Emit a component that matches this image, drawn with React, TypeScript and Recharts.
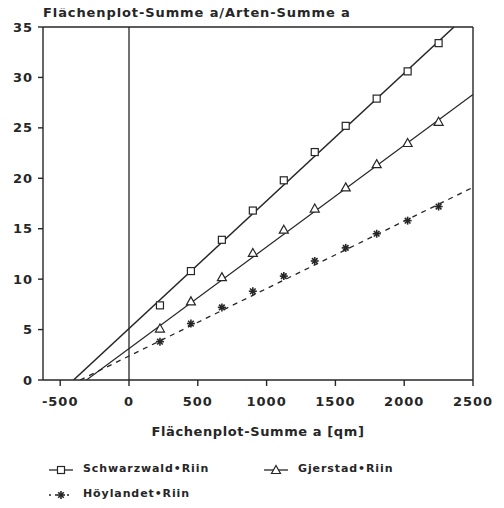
import React from 'react';
import { ComposedChart, XAxis, YAxis, Line, Scatter, ReferenceLine } from 'recharts';

// Flächenplot-Summe a (qm) at each step
const plotArea = [225, 450, 675, 900, 1125, 1350, 1575, 1800, 2025, 2250];
const schwarzwald = [7.4, 10.8, 13.9, 16.8, 19.8, 22.6, 25.2, 27.9, 30.6, 33.4];
const gjerstad = [5.1, 7.8, 10.2, 12.6, 14.9, 17.0, 19.1, 21.4, 23.5, 25.6];
const hoylandet = [3.8, 5.6, 7.2, 8.8, 10.3, 11.8, 13.1, 14.5, 15.8, 17.2];

// fitted lines, end points
const schwarzwaldFitX = [-403, 2362];
const schwarzwaldFitY = [0, 35];
const gjerstadFitX = [-309, 2500];
const gjerstadFitY = [0, 28.3];
const hoylandetFitX = [-355, 2500];
const hoylandetFitY = [0, 19.1];

const xTicks = [-500, 0, 500, 1000, 1500, 2000, 2500];
const yTicks = [0, 5, 10, 15, 20, 25, 30, 35];

const INK = '#262626';
const FONT = '"DejaVu Sans", sans-serif';

const toPoints = (xs: number[], ys: number[]) => xs.map((x, i) => ({ x, y: ys[i] }));

const SquareDot = (props: any) => {
  const { cx, cy } = props;
  return <rect x={cx - 3.5} y={cy - 3.5} width={7} height={7} fill="#fff" stroke={INK} strokeWidth={1.2} />;
};

const TriangleDot = (props: any) => {
  const { cx, cy } = props;
  return (
    <polygon
      points={`${cx},${cy - 4.5} ${cx + 4.5},${cy + 3.5} ${cx - 4.5},${cy + 3.5}`}
      fill="#fff"
      stroke={INK}
      strokeWidth={1.2}
    />
  );
};

const StarDot = (props: any) => {
  const { cx, cy } = props;
  const r = 4;
  const d = 2.8;
  return (
    <g stroke={INK} strokeWidth={1.6}>
      <line x1={cx - r} y1={cy} x2={cx + r} y2={cy} />
      <line x1={cx} y1={cy - r} x2={cx} y2={cy + r} />
      <line x1={cx - d} y1={cy - d} x2={cx + d} y2={cy + d} />
      <line x1={cx - d} y1={cy + d} x2={cx + d} y2={cy - d} />
    </g>
  );
};

const textStyle: React.CSSProperties = {
  fontFamily: FONT,
  fontWeight: 'bold',
  color: INK,
  position: 'absolute',
  whiteSpace: 'nowrap',
};

const LegendItem = ({ left, top, label, kind }: { left: number; top: number; label: string; kind: string }) => (
  <div style={{ position: 'absolute', left, top, height: 14 }}>
    <svg width={26} height={14} style={{ position: 'absolute', left: 0, top: 0 }}>
      <line
        x1={1}
        y1={7}
        x2={25}
        y2={7}
        stroke={INK}
        strokeWidth={1.3}
        strokeDasharray={kind === 'star' ? '2 4' : undefined}
      />
      {kind === 'square' && <SquareDot cx={13} cy={7} />}
      {kind === 'triangle' && <TriangleDot cx={13} cy={7} />}
      {kind === 'star' && <StarDot cx={13} cy={7} />}
    </svg>
    <span style={{ ...textStyle, left: 35, top: -1, fontSize: 11, letterSpacing: 0.9, lineHeight: '14px' }}>{label}</span>
  </div>
);

export default function App() {
  return (
    <div style={{ position: 'relative', width: 488, height: 492, background: '#fff' }}>
      <div style={{ ...textStyle, left: 35, top: -2, fontSize: 13, letterSpacing: 0.9, lineHeight: '13px' }}>
        Flächenplot-Summe a/Arten-Summe a
      </div>
      <ComposedChart width={488} height={445} margin={{ top: 19, right: 23, left: 0, bottom: 13 }}>
        <XAxis
          dataKey="x"
          type="number"
          domain={[-625, 2500]}
          ticks={xTicks}
          allowDataOverflow
          stroke={INK}
          strokeWidth={1.4}
          tickSize={6}
          tickMargin={11}
          height={60}
          tick={{ fill: INK, fontFamily: FONT, fontWeight: 'bold', fontSize: 13, letterSpacing: 1 }}
          label={{
            value: 'Flächenplot-Summe a [qm]',
            position: 'insideBottom',
            offset: 4,
            fill: INK,
            fontFamily: FONT,
            fontWeight: 'bold',
            fontSize: 13,
            letterSpacing: 0.6,
          }}
        />
        <YAxis
          dataKey="y"
          type="number"
          domain={[0, 35]}
          ticks={yTicks}
          allowDataOverflow
          width={35}
          stroke={INK}
          strokeWidth={1.4}
          tickSize={5}
          tickMargin={5}
          tick={{ fill: INK, fontFamily: FONT, fontWeight: 'bold', fontSize: 13, letterSpacing: 1 }}
        />
        <ReferenceLine y={35} stroke={INK} strokeWidth={1.4} />
        <ReferenceLine x={2500} stroke={INK} strokeWidth={1.4} />
        <ReferenceLine x={0} stroke={INK} strokeWidth={1.3} />
        <Line
          data={toPoints(schwarzwaldFitX, schwarzwaldFitY)}
          dataKey="y"
          type="linear"
          stroke={INK}
          strokeWidth={1.5}
          dot={false}
          isAnimationActive={false}
        />
        <Line
          data={toPoints(gjerstadFitX, gjerstadFitY)}
          dataKey="y"
          type="linear"
          stroke={INK}
          strokeWidth={1.2}
          dot={false}
          isAnimationActive={false}
        />
        <Line
          data={toPoints(hoylandetFitX, hoylandetFitY)}
          dataKey="y"
          type="linear"
          stroke={INK}
          strokeWidth={1.3}
          strokeDasharray="5 5"
          dot={false}
          isAnimationActive={false}
        />
        <Scatter data={toPoints(plotArea, schwarzwald)} shape={<SquareDot />} isAnimationActive={false} />
        <Scatter data={toPoints(plotArea, gjerstad)} shape={<TriangleDot />} isAnimationActive={false} />
        <Scatter data={toPoints(plotArea, hoylandet)} shape={<StarDot />} isAnimationActive={false} />
      </ComposedChart>
      <LegendItem left={40} top={455} label="Schwarzwald•Riin" kind="square" />
      <LegendItem left={255} top={455} label="Gjerstad•Riin" kind="triangle" />
      <LegendItem left={40} top={480} label="Höylandet•Riin" kind="star" />
    </div>
  );
}
